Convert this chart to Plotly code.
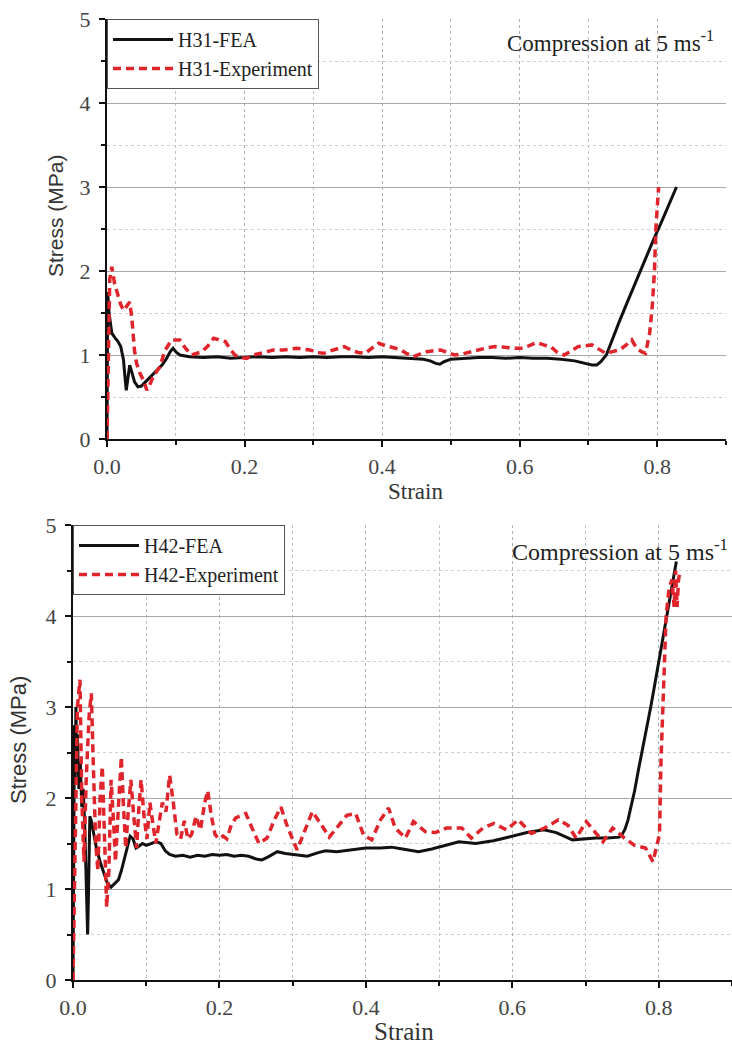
import plotly.graph_objects as go

W, H = 732, 1045

# ---- H31 panel (top) ----
h31_fea_strain = [0.0, 0.001, 0.003, 0.007, 0.012, 0.016, 0.020, 0.024, 0.026, 0.028,
                  0.030, 0.033, 0.036, 0.040, 0.045, 0.050, 0.056, 0.063, 0.070, 0.075,
                  0.080, 0.086, 0.092, 0.096, 0.101, 0.106, 0.111, 0.120, 0.140, 0.160,
                  0.180, 0.200, 0.220, 0.240, 0.260, 0.280, 0.300, 0.320, 0.340, 0.360,
                  0.380, 0.400, 0.420, 0.440, 0.460, 0.470, 0.478, 0.484, 0.490, 0.500,
                  0.520, 0.540, 0.560, 0.580, 0.600, 0.620, 0.640, 0.660, 0.680, 0.695,
                  0.705, 0.712, 0.718, 0.726, 0.735, 0.745, 0.755, 0.765, 0.775, 0.785,
                  0.795, 0.805, 0.815, 0.822, 0.828]
h31_fea_stress = [0.0, 1.75, 1.5, 1.26, 1.2, 1.16, 1.1, 0.94, 0.75, 0.58,
                  0.7, 0.88, 0.8, 0.68, 0.62, 0.63, 0.68, 0.74, 0.8, 0.84,
                  0.88, 0.95, 1.04, 1.08, 1.03, 1.0, 0.99, 0.98, 0.97, 0.98,
                  0.96, 0.97, 0.98, 0.97, 0.98, 0.97, 0.98, 0.97, 0.98, 0.98,
                  0.97, 0.98, 0.97, 0.96, 0.95, 0.93, 0.9, 0.89, 0.92, 0.95,
                  0.96, 0.97, 0.97, 0.96, 0.97, 0.96, 0.96, 0.95, 0.93, 0.9,
                  0.88, 0.88, 0.92, 1.0, 1.2, 1.4, 1.6, 1.8, 2.0, 2.2,
                  2.38, 2.56, 2.75, 2.88, 3.0]

h31_exp_strain = [0.0, 0.002, 0.004, 0.007, 0.011, 0.016, 0.020, 0.024, 0.028, 0.033,
                  0.036, 0.038, 0.040, 0.043, 0.048, 0.053, 0.058, 0.063, 0.067, 0.072,
                  0.077, 0.084, 0.094, 0.106, 0.114, 0.123, 0.130, 0.138, 0.146, 0.155,
                  0.163, 0.172, 0.180, 0.186, 0.195, 0.203, 0.213, 0.223, 0.232, 0.242,
                  0.257, 0.266, 0.276, 0.285, 0.295, 0.305, 0.315, 0.325, 0.335, 0.345,
                  0.355, 0.365, 0.375, 0.385, 0.395, 0.405, 0.415, 0.425, 0.435, 0.445,
                  0.455, 0.465, 0.475, 0.485, 0.495, 0.505, 0.515, 0.525, 0.535, 0.545,
                  0.555, 0.565, 0.575, 0.585, 0.595, 0.605, 0.615, 0.625, 0.635, 0.645,
                  0.655, 0.665, 0.675, 0.685, 0.695, 0.705, 0.715, 0.725, 0.735, 0.745,
                  0.755, 0.763, 0.770, 0.777, 0.783, 0.789, 0.793, 0.796, 0.798, 0.800,
                  0.802]
h31_exp_stress = [0.0, 1.2, 1.9, 2.05, 1.85, 1.71, 1.6, 1.53, 1.58, 1.63,
                  1.45, 1.25, 1.05, 0.9, 0.78, 0.7, 0.58, 0.66, 0.74, 0.8,
                  0.86, 1.05, 1.18, 1.18, 1.08, 1.0, 1.02, 1.04, 1.1, 1.2,
                  1.18, 1.16, 1.06, 1.0, 0.97, 0.96, 1.0, 1.02, 1.04, 1.06,
                  1.06, 1.07, 1.08, 1.07, 1.06, 1.03, 1.02, 1.05, 1.08, 1.1,
                  1.06, 1.03, 1.02, 1.08, 1.14, 1.11, 1.09, 1.07, 1.02, 0.98,
                  1.01, 1.04, 1.05, 1.06, 1.03, 1.0, 1.01, 1.03, 1.05, 1.08,
                  1.09, 1.1, 1.09, 1.08, 1.08, 1.08, 1.12, 1.15, 1.12, 1.1,
                  1.03, 1.0, 1.05, 1.1, 1.11, 1.12, 1.07, 1.02, 1.04, 1.06,
                  1.12, 1.18, 1.08, 1.04, 1.02, 1.26, 1.6, 2.0, 2.5, 2.85,
                  3.0]

# ---- H42 panel (bottom) ----
h42_fea_strain = [0.0, 0.001, 0.002, 0.003, 0.004, 0.005, 0.006, 0.008, 0.010, 0.012,
                  0.014, 0.016, 0.018, 0.019, 0.020, 0.021, 0.022, 0.023, 0.025, 0.028,
                  0.032, 0.037, 0.042, 0.047, 0.052, 0.057, 0.062, 0.066, 0.070, 0.074,
                  0.078, 0.082, 0.086, 0.090, 0.095, 0.100, 0.107, 0.114, 0.120, 0.126,
                  0.132, 0.140, 0.150, 0.160, 0.170, 0.180, 0.190, 0.200, 0.210, 0.220,
                  0.230, 0.240, 0.250, 0.258, 0.266, 0.279, 0.290, 0.306, 0.320, 0.335,
                  0.345, 0.360, 0.380, 0.400, 0.420, 0.435, 0.450, 0.472, 0.490, 0.510,
                  0.527, 0.550, 0.574, 0.590, 0.604, 0.620, 0.643, 0.660, 0.682, 0.700,
                  0.714, 0.730, 0.746, 0.750, 0.754, 0.758, 0.762, 0.767, 0.772, 0.777,
                  0.783, 0.789, 0.795, 0.800, 0.805, 0.810, 0.815, 0.820, 0.824]
h42_fea_stress = [0.0, 1.5, 2.8, 2.2, 3.0, 2.4, 2.7, 2.1, 2.4, 1.9,
                  2.1, 1.7, 1.2, 0.7, 0.5, 0.9, 1.5, 1.8, 1.75, 1.6,
                  1.45, 1.3, 1.18, 1.06, 1.02, 1.06, 1.1, 1.2, 1.32, 1.45,
                  1.58, 1.55, 1.45, 1.47, 1.5, 1.48, 1.5, 1.52, 1.5, 1.42,
                  1.38, 1.36, 1.37, 1.35, 1.37, 1.36, 1.38, 1.37, 1.38, 1.36,
                  1.37, 1.36, 1.33, 1.32, 1.35, 1.41, 1.39, 1.37, 1.36, 1.4,
                  1.42, 1.41, 1.43, 1.45, 1.45, 1.46, 1.44, 1.41, 1.44, 1.48,
                  1.52, 1.5, 1.53, 1.56, 1.59, 1.62, 1.65, 1.62, 1.54, 1.55,
                  1.56, 1.56, 1.57, 1.6, 1.66, 1.76, 1.9, 2.08, 2.3, 2.5,
                  2.75, 3.0, 3.27, 3.5, 3.75, 4.0, 4.22, 4.43, 4.6]

h42_exp_strain = [0.0, 0.003, 0.006, 0.0095, 0.012, 0.015, 0.018, 0.022, 0.025, 0.028,
                  0.031, 0.034, 0.037, 0.040, 0.043, 0.046, 0.049, 0.052, 0.055, 0.058,
                  0.062, 0.066, 0.069, 0.072, 0.075, 0.079, 0.083, 0.087, 0.090, 0.093,
                  0.097, 0.101, 0.105, 0.109, 0.113, 0.117, 0.122, 0.127, 0.132, 0.137,
                  0.142, 0.147, 0.152, 0.157, 0.162, 0.168, 0.174, 0.180, 0.184, 0.189,
                  0.194, 0.199, 0.205, 0.210, 0.216, 0.222, 0.228, 0.236, 0.244, 0.254,
                  0.265, 0.275, 0.284, 0.293, 0.306, 0.318, 0.327, 0.338, 0.350, 0.360,
                  0.374, 0.386, 0.397, 0.408, 0.420, 0.431, 0.440, 0.454, 0.465, 0.481,
                  0.495, 0.510, 0.531, 0.544, 0.560, 0.575, 0.592, 0.608, 0.626, 0.644,
                  0.663, 0.676, 0.687, 0.701, 0.712, 0.724, 0.737, 0.753, 0.767, 0.782,
                  0.792, 0.796, 0.801, 0.803, 0.806, 0.810, 0.814, 0.818, 0.821, 0.823,
                  0.825, 0.827, 0.829]
h42_exp_stress = [0.0, 1.5, 3.0, 3.3, 2.0, 1.3, 2.2, 2.9, 3.15, 2.3,
                  1.5, 1.2, 2.0, 2.35, 1.6, 0.8, 1.2, 2.2, 1.8, 1.3,
                  1.9, 2.45, 1.9, 1.45, 1.8, 2.2, 1.8, 1.45, 1.9, 2.2,
                  1.8, 1.55, 1.95, 1.75, 1.5, 1.7, 1.95, 1.85, 2.25, 1.95,
                  1.6, 1.55, 1.75, 1.55, 1.6, 1.8, 1.65, 1.95, 2.08, 1.8,
                  1.6, 1.55, 1.58, 1.55, 1.7, 1.78, 1.8, 1.83, 1.68, 1.5,
                  1.56, 1.76, 1.9, 1.68, 1.43, 1.68, 1.85, 1.72, 1.57, 1.67,
                  1.81, 1.83, 1.59, 1.54, 1.76, 1.89, 1.67, 1.56, 1.74, 1.63,
                  1.62, 1.67, 1.67, 1.56, 1.67, 1.72, 1.65, 1.76, 1.61, 1.67,
                  1.76, 1.7, 1.56, 1.74, 1.63, 1.52, 1.67, 1.56, 1.48, 1.45,
                  1.3, 1.43, 1.6, 2.4, 3.2, 4.0, 4.3, 4.4, 4.1, 4.5,
                  4.1, 4.4, 4.5]

assert len(h31_fea_strain) == len(h31_fea_stress)
assert len(h31_exp_strain) == len(h31_exp_stress)
assert len(h42_fea_strain) == len(h42_fea_stress)
assert len(h42_exp_strain) == len(h42_exp_stress)

BLACK = "#111111"
RED = "#e0242b"
SERIF = "Liberation Serif"
SANS = "Liberation Sans"


def fx(p):  # pixel -> paper x
    return p / W


def fy(p):  # pixel -> paper y
    return 1 - p / H


fig = go.Figure()

fig.add_trace(go.Scatter(x=h31_fea_strain, y=h31_fea_stress, mode="lines", name="H31-FEA",
                         line=dict(color=BLACK, width=3), xaxis="x", yaxis="y", legend="legend"))
fig.add_trace(go.Scatter(x=h31_exp_strain, y=h31_exp_stress, mode="lines", name="H31-Experiment",
                         line=dict(color=RED, width=3.5, dash="8px,5px"), xaxis="x", yaxis="y",
                         legend="legend"))
fig.add_trace(go.Scatter(x=h42_fea_strain, y=h42_fea_stress, mode="lines", name="H42-FEA",
                         line=dict(color=BLACK, width=3), xaxis="x2", yaxis="y2", legend="legend2"))
fig.add_trace(go.Scatter(x=h42_exp_strain, y=h42_exp_stress, mode="lines", name="H42-Experiment",
                         line=dict(color=RED, width=3.5, dash="8px,5px"), xaxis="x2", yaxis="y2",
                         legend="legend2"))


def xaxis_cfg(domain, anchor):
    return dict(domain=domain, anchor=anchor, range=[0, 0.9], tick0=0, dtick=0.2,
                tickformat=".1f", showline=True, linecolor=BLACK, linewidth=2,
                ticks="outside", ticklen=6, tickwidth=2, tickcolor=BLACK,
                showgrid=True, gridcolor="#b0b0b0", griddash="dot", gridwidth=1,
                zeroline=False, automargin=False, ticklabelstandoff=1,
                tickfont=dict(family=SERIF, size=22, color="#444444"),
                minor=dict(dtick=0.1, ticks="outside", ticklen=4, tickwidth=1.5,
                           tickcolor=BLACK, showgrid=True, gridcolor="#c0c0c0",
                           griddash="dot"))


def yaxis_cfg(domain, anchor):
    return dict(domain=domain, anchor=anchor, range=[0, 5], tick0=0, dtick=1,
                showline=True, linecolor=BLACK, linewidth=2,
                ticks="outside", ticklen=6, tickwidth=2, tickcolor=BLACK,
                showgrid=True, gridcolor="#a8a8a8", gridwidth=1,
                zeroline=False, automargin=False, ticklabelstandoff=4,
                tickfont=dict(family=SERIF, size=22, color="#444444"),
                minor=dict(dtick=0.5, ticks="outside", ticklen=4, tickwidth=1.5,
                           tickcolor=BLACK, showgrid=True, gridcolor="#d0d0d0",
                           griddash="dot"))


legend_common = dict(xanchor="left", yanchor="top", bgcolor="white",
                     bordercolor="#555555", borderwidth=1, itemwidth=60,
                     font=dict(family=SERIF, size=20, color="#222222"),
                     tracegroupgap=0)

fig.update_layout(
    width=W, height=H,
    margin=dict(l=0, r=0, t=0, b=0, autoexpand=False),
    paper_bgcolor="white", plot_bgcolor="white",
    xaxis=xaxis_cfg([fx(107), fx(726)], "y"),
    yaxis=yaxis_cfg([fy(439), fy(19)], "x"),
    xaxis2=xaxis_cfg([fx(73), fx(732)], "y2"),
    yaxis2=yaxis_cfg([fy(980), fy(525)], "x2"),
    legend=dict(x=fx(107), y=fy(19), **legend_common),
    legend2=dict(x=fx(73), y=fy(525), **legend_common),
    showlegend=True,
)

annotations = [
    dict(text="Compression at 5 ms<sup>-1</sup>", x=fx(716), y=fy(42), xanchor="right",
         yanchor="middle", font=dict(family=SERIF, size=23, color="#222222")),
    dict(text="Compression at 5 ms<sup>-1</sup>", x=fx(730), y=fy(550), xanchor="right",
         yanchor="middle", font=dict(family=SERIF, size=24, color="#222222")),
    dict(text="Stress (MPa)", x=fx(55), y=fy(216), textangle=-90, xanchor="center",
         yanchor="middle", font=dict(family=SANS, size=21, color="#333333")),
    dict(text="Stress (MPa)", x=fx(18), y=fy(740), textangle=-90, xanchor="center",
         yanchor="middle", font=dict(family=SANS, size=22, color="#333333")),
    dict(text="Strain", x=fx(415), y=fy(492), xanchor="center", yanchor="middle",
         font=dict(family=SERIF, size=23, color="#333333")),
    dict(text="Strain", x=fx(404), y=fy(1031), xanchor="center", yanchor="middle",
         font=dict(family=SERIF, size=25, color="#333333")),
]
for a in annotations:
    fig.add_annotation(xref="paper", yref="paper", showarrow=False, **a)

# page body has a default 8px margin; drop it so the figure fills the window
fig.write_html("out.html", config={"displayModeBar": False},
               post_script="document.body.style.margin = '0';")
